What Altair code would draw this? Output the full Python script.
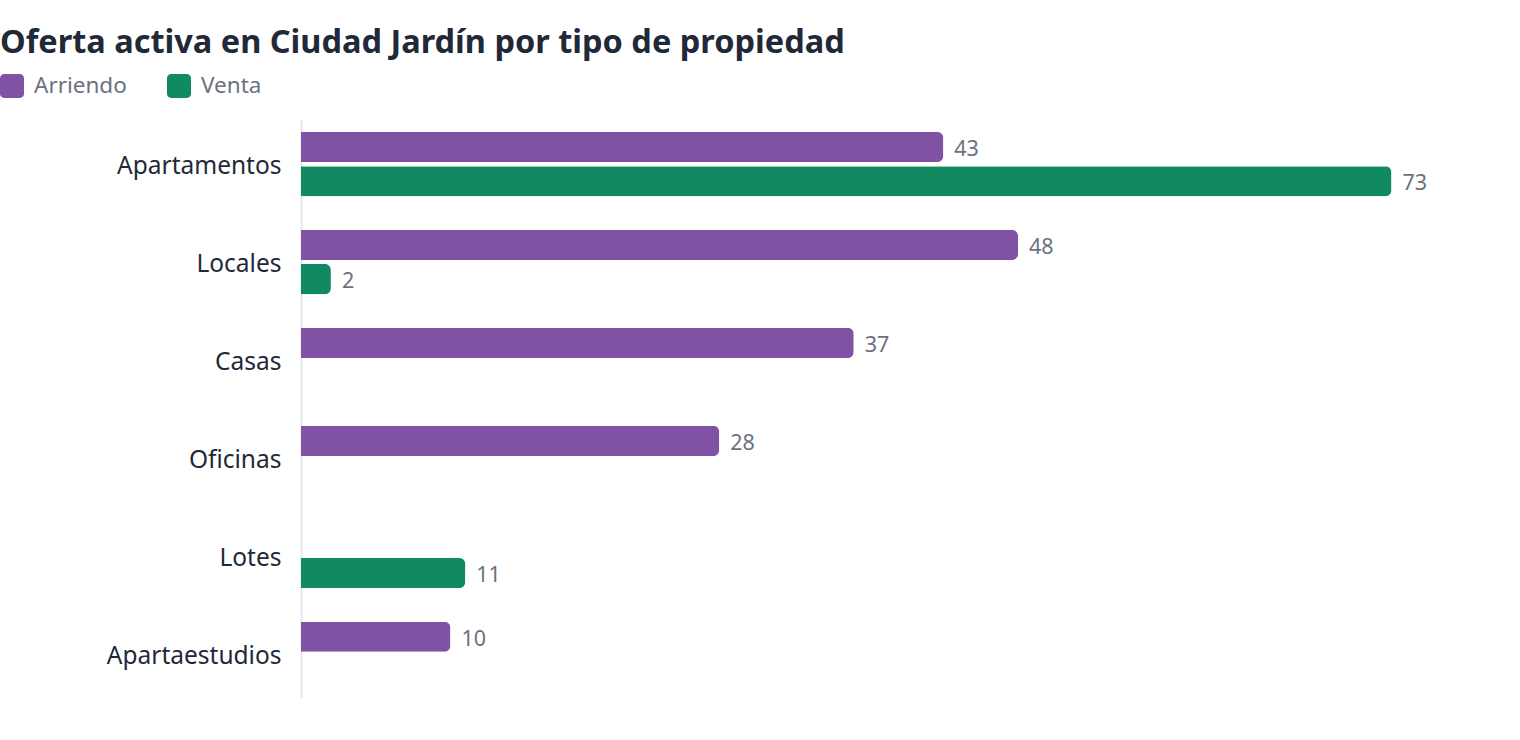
import altair as alt
import pandas as pd

categories = ["Apartamentos", "Locales", "Casas", "Oficinas", "Lotes", "Apartaestudios"]
series = ["Arriendo", "Venta"]
arriendo = [43, 48, 37, 28, None, 10]
venta = [73, 2, None, None, 11, None]
colors = ["#7f52a3", "#118a62"]

rows = []
for c, a, v in zip(categories, arriendo, venta):
    if a is not None:
        rows.append({"tipo": c, "serie": "Arriendo", "valor": a})
    if v is not None:
        rows.append({"tipo": c, "serie": "Venta", "valor": v})
df = pd.DataFrame(rows)

FONT = "Noto Sans"
rounded = "M-0.65,-1H0.65A0.35,0.35,0,0,1,1,-0.65V0.65A0.35,0.35,0,0,1,0.65,1H-0.65A0.35,0.35,0,0,1,-1,0.65V-0.65A0.35,0.35,0,0,1,-0.65,-1Z"

y_enc = alt.Y("tipo:N", sort=categories, title=None,
              scale=alt.Scale(paddingInner=0.1, paddingOuter=0),
              axis=alt.Axis(ticks=False, grid=False, domainColor="#e5e7eb", domainWidth=2,
                            labelFontSize=24.5, labelColor="#1f2937", labelPadding=20,
                            labelFont=FONT, labelOffset=3))
yoff = alt.YOffset("serie:N", sort=series,
                   scale=alt.Scale(paddingInner=0.12, paddingOuter=0.35))
x_enc = alt.X("valor:Q", axis=None, scale=alt.Scale(domain=[0, 80], nice=False))

bars = alt.Chart(df).mark_bar(cornerRadiusEnd=6).encode(
    x=x_enc, y=y_enc, yOffset=yoff,
    color=alt.Color("serie:N", sort=series, title=None,
                    scale=alt.Scale(domain=series, range=colors),
                    legend=alt.Legend(orient="none", legendX=-301, legendY=-46,
                                      direction="horizontal", symbolType=rounded,
                                      symbolSize=576, symbolStrokeWidth=0,
                                      labelFontSize=22.5, labelColor="#6b7280",
                                      labelFont=FONT, labelOffset=10, columnPadding=40)),
)
labels = alt.Chart(df).mark_text(align="left", baseline="middle", dx=11, dy=3,
                                 fontSize=21.5, color="#6b7280", font=FONT).encode(
    x=x_enc, y=alt.Y("tipo:N", sort=categories), yOffset=yoff, text="valor:Q")

chart = (bars + labels).properties(
    width=1195, height=578,
    padding={"left": 301, "top": 120, "right": 0, "bottom": 0},
    autosize=alt.AutoSizeParams(type="none"),
    title=alt.TitleParams("Oferta activa en Ciudad Jardín por tipo de propiedad",
                          anchor="start", frame="group", dx=-301, fontSize=32.5,
                          fontWeight="bold", color="#1f2937", font=FONT, offset=15),
).configure_view(stroke=None)

chart.save("out.html", embed_options={"renderer": "svg", "actions": False})
